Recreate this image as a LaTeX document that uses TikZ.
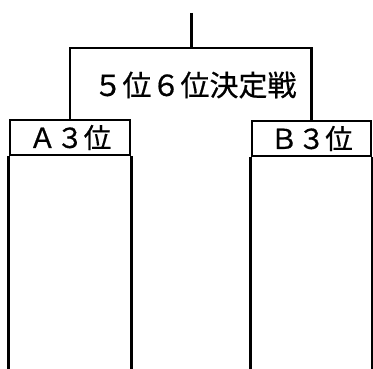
\documentclass[tikz,border=0pt]{standalone}
\usepackage{fontspec}
\newfontfamily\cjk[FakeBold=0.6]{Noto Sans CJK JP}
\begin{document}
\begin{tikzpicture}[x=1pt,y=-1pt,line width=2.6pt,
  hdr/.style={draw,rectangle,minimum width=120pt,minimum height=35pt,inner sep=0pt,
    font=\cjk\fontsize{27.5}{30}\selectfont},
  ttl/.style={inner sep=0pt,font=\cjk\fontsize{29}{32}\selectfont}]
\useasboundingbox (0,0) rectangle (373,369);
\node[hdr] (a) at (70,137.5) {Ａ３位};
\node[hdr,minimum width=119pt] (b) at (311.5,138.5) {Ｂ３位};
\node[ttl] (t) at (195,85) {５位６位決定戦};
\coordinate (top) at (191.5,13);
\coordinate (j) at (191.5,48);
\draw (top) -- (j);
\draw (a.north) |- (j) -| (b.north);
\draw (a.south west) -- (a.south west |- 0,369);
\draw (a.south east) -- (a.south east |- 0,369);
\draw (b.south west) -- (b.south west |- 0,369);
\draw (b.south east) -- (b.south east |- 0,369);
\end{tikzpicture}
\end{document}
